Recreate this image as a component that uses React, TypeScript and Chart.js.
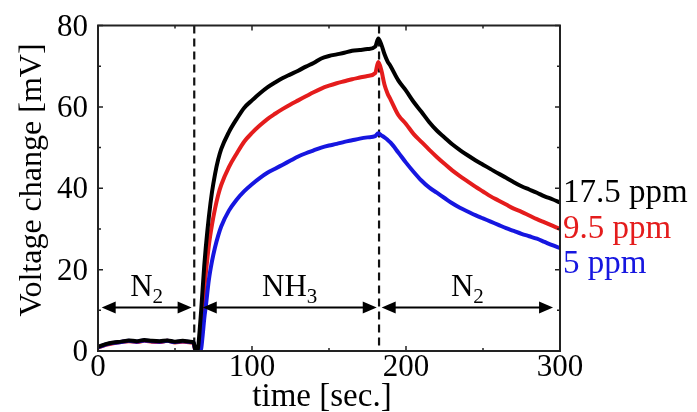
import React, { useEffect, useRef } from "react";
import { Chart, registerables } from "chart.js";

Chart.register(...registerables);

// time axis [sec.]
const times = [0, 5, 10, 15, 20, 25, 30, 35, 40, 45, 50, 55, 60, 62, 63, 64, 65, 66, 67, 68, 69, 70, 72, 74, 76, 78, 80, 85, 90, 95, 100, 105, 110, 115, 120, 125, 130, 135, 140, 145, 150, 155, 160, 165, 170, 175, 180, 182, 184, 186, 188, 190, 195, 200, 205, 210, 215, 220, 225, 230, 235, 240, 245, 250, 255, 260, 265, 270, 275, 280, 285, 290, 295, 300];

// voltage change [mV]
const ppm17_5 = [1.0, 1.7, 2.1, 2.3, 2.6, 2.4, 2.7, 2.5, 2.4, 2.6, 2.3, 2.5, 2.3, 2.2, 0.6, 0.0, 0.8, 5.0, 10.0, 15.5, 21.0, 25.5, 33.0, 39.0, 43.5, 47.0, 49.6, 53.8, 57.0, 59.8, 61.6, 63.3, 64.8, 66.0, 67.1, 68.0, 68.9, 69.9, 70.8, 71.9, 72.5, 72.9, 73.3, 73.8, 74.0, 74.2, 74.8, 76.8, 75.3, 73.0, 71.2, 70.0, 66.5, 64.0, 61.2, 58.8, 56.3, 54.2, 52.5, 50.8, 49.4, 48.1, 46.9, 45.8, 44.7, 43.6, 42.6, 41.5, 40.5, 39.7, 38.9, 38.0, 37.3, 36.5];
const ppm9_5 = [0.8, 1.5, 1.9, 2.2, 2.4, 2.2, 2.5, 2.3, 2.2, 2.5, 2.1, 2.3, 2.1, 2.0, 0.4, 0.0, 0.0, 0.8, 5.0, 10.0, 15.0, 19.0, 26.0, 31.0, 35.0, 38.3, 40.8, 45.2, 48.5, 51.5, 53.6, 55.4, 57.0, 58.3, 59.5, 60.6, 61.6, 62.6, 63.6, 64.5, 65.2, 65.8, 66.3, 66.8, 67.2, 67.6, 68.3, 71.0, 69.0, 65.5, 63.3, 61.8, 58.0, 55.8, 53.3, 51.4, 49.5, 47.7, 46.0, 44.4, 43.0, 41.7, 40.4, 39.2, 38.0, 37.0, 36.0, 35.0, 34.2, 33.3, 32.4, 31.6, 30.8, 30.0];
const ppm5 = [0.9, 1.6, 2.0, 2.2, 2.5, 2.3, 2.6, 2.4, 2.3, 2.5, 2.2, 2.4, 2.2, 2.1, 0.5, 0.0, 0.0, 0.0, 0.6, 4.0, 8.0, 11.0, 17.5, 22.0, 25.5, 28.3, 30.6, 34.5, 37.2, 39.3, 41.0, 42.5, 43.8, 44.8, 45.8, 46.8, 47.8, 48.6, 49.3, 50.0, 50.5, 50.9, 51.4, 51.8, 52.2, 52.5, 52.8, 53.5, 53.0, 52.5, 51.9, 51.2, 48.8, 46.3, 44.0, 41.9, 40.2, 38.9, 37.6, 36.3, 35.2, 34.3, 33.4, 32.6, 31.8, 31.0, 30.2, 29.5, 28.8, 28.2, 27.6, 26.8, 26.0, 25.3];

const seriesLabels = ["17.5 ppm", "9.5 ppm", "5 ppm"];
const xMajorTicks = [0, 100, 200, 300];
const xMinorTicks = [50, 150, 250];
const yMajorTicks = [0, 20, 40, 60, 80];
const yMinorTicks = [10, 30, 50, 70];
const phaseBoundaries = [62.5, 182.5];
const phaseArrowStarts = [2.4, 68, 184.2];
const phaseArrowEnds = [60.8, 181, 295.5];
const phaseGas = ["N", "NH", "N"];
const phaseSub = ["2", "3", "2"];
const arrowLevel = 10.7;

const SERIF = "'Liberation Serif', 'Times New Roman', serif";
const COLORS = ["#000000", "#e41c1c", "#1616e0"];

function arrowHead(ctx: CanvasRenderingContext2D, tipX: number, y: number, dir: number) {
  ctx.beginPath();
  ctx.moveTo(tipX, y);
  ctx.lineTo(tipX + dir * 14, y - 6);
  ctx.lineTo(tipX + dir * 14, y + 6);
  ctx.closePath();
  ctx.fill();
}

const decor = {
  id: "decor",
  beforeDatasetsDraw(chart: any) {
    const { ctx, chartArea: a, scales } = chart;
    const xs = scales.x;
    ctx.save();
    ctx.strokeStyle = "#111";
    ctx.lineWidth = 2.2;
    ctx.setLineDash([8, 5]);
    for (const b of phaseBoundaries) {
      const px = xs.getPixelForValue(b);
      ctx.beginPath();
      ctx.moveTo(px, a.top);
      ctx.lineTo(px, a.bottom);
      ctx.stroke();
    }
    ctx.restore();
  },
  afterDatasetsDraw(chart: any) {
    const { ctx, chartArea: a, scales } = chart;
    const xs = scales.x;
    const ys = scales.y;
    ctx.save();
    // frame
    ctx.strokeStyle = "#222";
    ctx.lineWidth = 2;
    ctx.strokeRect(a.left, a.top, a.right - a.left, a.bottom - a.top);
    // inward ticks on all sides
    ctx.lineWidth = 1.5;
    const xt = (vals: number[], len: number) => {
      for (const v of vals) {
        const px = xs.getPixelForValue(v);
        ctx.beginPath();
        ctx.moveTo(px, a.bottom);
        ctx.lineTo(px, a.bottom - len);
        ctx.moveTo(px, a.top);
        ctx.lineTo(px, a.top + len);
        ctx.stroke();
      }
    };
    const yt = (vals: number[], len: number) => {
      for (const v of vals) {
        const py = ys.getPixelForValue(v);
        ctx.beginPath();
        ctx.moveTo(a.left, py);
        ctx.lineTo(a.left + len, py);
        ctx.moveTo(a.right, py);
        ctx.lineTo(a.right - len, py);
        ctx.stroke();
      }
    };
    xt(xMajorTicks, 5);
    xt(xMinorTicks, 3);
    yt(yMajorTicks, 5);
    yt(yMinorTicks, 3);

    // phase arrows
    ctx.fillStyle = "#000";
    ctx.strokeStyle = "#000";
    ctx.lineWidth = 2;
    const ay = ys.getPixelForValue(arrowLevel);
    for (let i = 0; i < phaseArrowStarts.length; i++) {
      const x1 = xs.getPixelForValue(phaseArrowStarts[i]);
      const x2 = xs.getPixelForValue(phaseArrowEnds[i]);
      ctx.beginPath();
      ctx.moveTo(x1 + 10, ay);
      ctx.lineTo(x2 - 10, ay);
      ctx.stroke();
      arrowHead(ctx, x1, ay, 1);
      arrowHead(ctx, x2, ay, -1);
      // label
      const big = "31px " + SERIF;
      const small = "21px " + SERIF;
      ctx.font = big;
      const w1 = ctx.measureText(phaseGas[i]).width;
      ctx.font = small;
      const w2 = ctx.measureText(phaseSub[i]).width;
      const cx = (x1 + x2) / 2;
      const sx = cx - (w1 + w2) / 2;
      ctx.textAlign = "left";
      ctx.textBaseline = "alphabetic";
      ctx.font = big;
      ctx.fillText(phaseGas[i], sx, ay - 11);
      ctx.font = small;
      ctx.fillText(phaseSub[i], sx + w1, ay - 4);
    }

    // series labels at right
    ctx.font = "33px " + SERIF;
    ctx.textAlign = "left";
    ctx.textBaseline = "alphabetic";
    const baselines = [202, 238, 273];
    for (let i = 0; i < seriesLabels.length; i++) {
      ctx.fillStyle = COLORS[i];
      ctx.fillText(seriesLabels[i], a.right + 3, baselines[i]);
    }

    // axis titles
    ctx.fillStyle = "#000";
    ctx.font = "33px " + SERIF;
    ctx.textAlign = "center";
    ctx.fillText("time [sec.]", 322, 406);
    ctx.translate(41, 180);
    ctx.rotate(-Math.PI / 2);
    ctx.font = "32px " + SERIF;
    ctx.fillText("Voltage change [mV]", 0, 0);
    ctx.restore();
  },
};

export default function App() {
  const ref = useRef<HTMLCanvasElement | null>(null);
  useEffect(() => {
    document.body.style.margin = "0";
    const canvas = ref.current;
    if (!canvas) return;
    const mk = (vals: number[]) => times.map((t, i) => ({ x: t, y: vals[i] }));
    const common = { borderWidth: 4, pointRadius: 0, cubicInterpolationMode: "monotone" as const };
    const chart = new Chart(canvas, {
      type: "line",
      data: {
        datasets: [
          { label: seriesLabels[0], data: mk(ppm17_5), borderColor: COLORS[0], ...common },
          { label: seriesLabels[2], data: mk(ppm5), borderColor: COLORS[2], ...common },
          { label: seriesLabels[1], data: mk(ppm9_5), borderColor: COLORS[1], ...common },
        ],
      },
      options: {
        animation: false,
        responsive: false,
        events: [],
        layout: { padding: { top: 20, right: 137, left: 0, bottom: 0 } },
        plugins: { legend: { display: false }, tooltip: { enabled: false } },
        scales: {
          x: {
            type: "linear",
            min: 0,
            max: 300,
            afterFit: (s: any) => { s.height = 61; },
            afterBuildTicks: (s: any) => { s.ticks = xMajorTicks.map((v) => ({ value: v })); },
            grid: { display: false, drawTicks: false },
            border: { display: false },
            ticks: { color: "#000", padding: 1, maxRotation: 0, font: { family: SERIF, size: 31, lineHeight: 1 } },
          },
          y: {
            type: "linear",
            min: 0,
            max: 80,
            afterFit: (s: any) => { s.width = 98; },
            afterBuildTicks: (s: any) => { s.ticks = yMajorTicks.map((v) => ({ value: v })); },
            grid: { display: false, drawTicks: false },
            border: { display: false },
            ticks: { color: "#000", padding: 10, labelOffset: 2, font: { family: SERIF, size: 31, lineHeight: 1 } },
          },
        },
      },
      plugins: [decor],
    });
    return () => chart.destroy();
  }, []);
  return (
    <div style={{ position: "absolute", left: 0, top: 0, width: 697, height: 412, background: "#fff" }}>
      <canvas ref={ref} width={697} height={412} style={{ width: 697, height: 412, display: "block" }} />
    </div>
  );
}
